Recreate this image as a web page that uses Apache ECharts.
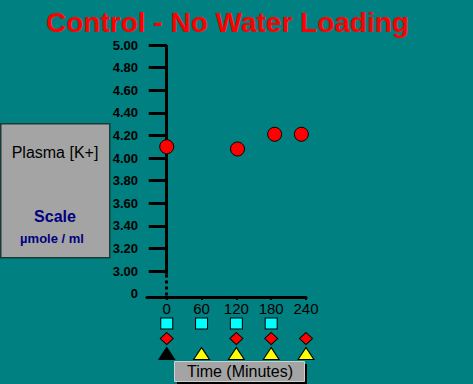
<!DOCTYPE html>
<html>
<head>
<meta charset="utf-8">
<script src="https://cdn.jsdelivr.net/npm/echarts@6/dist/echarts.min.js"></script>
<style>
html,body{margin:0;padding:0;background:#008080;}
#chart{width:473px;height:384px;}
</style>
</head>
<body>
<div id="chart"></div>
<script>
// ---- data ----
const titleText = 'Control - No Water Loading';
const sampleTimes = [0, 122, 186, 232];
const plasmaK = [4.10, 4.08, 4.21, 4.21];
const yTickValues = [3.0, 3.2, 3.4, 3.6, 3.8, 4.0, 4.2, 4.4, 4.6, 4.8, 5.0];
const yLabelValues = [2.8, 3.0, 3.2, 3.4, 3.6, 3.8, 4.0, 4.2, 4.4, 4.6, 4.8, 5.0];
const xTickValues = [0, 60, 120, 180, 240];
const squareTimes = [0, 60, 120, 180];
const diamondTimes = [0, 120, 180, 240];
const triangleTimes = [0, 60, 120, 180, 240];
const triangleFilled = [true, false, false, false, false];
const boxLabel = 'Plasma [K+]';
const scaleLabel = 'Scale';
const unitLabel = 'µmole / ml';
const xAxisTitle = 'Time (Minutes)';

const chart = echarts.init(document.getElementById('chart'), null, {renderer: 'svg'});
const FONT = 'Arial, "Liberation Sans", sans-serif';

const option = {
  backgroundColor: '#008080',
  animation: false,
  title: {
    text: titleText,
    left: 46,
    top: 8,
    padding: 0,
    textStyle: {color: '#ff0000', fontSize: 28, lineHeight: 28, fontWeight: 'bold', fontFamily: FONT}
  },
  grid: [
    {left: 147, width: 159, top: 45, height: 252},
    {left: 147, width: 159, top: 308.5, height: 60}
  ],
  xAxis: [
    {
      gridIndex: 0, type: 'value', min: -34, max: 240,
      splitLine: {show: false},
      axisLine: {show: true, onZero: false, lineStyle: {color: '#000', width: 3}},
      axisTick: {show: true, customValues: xTickValues, length: 3, lineStyle: {color: '#000', width: 2}},
      axisLabel: {customValues: xTickValues, margin: 4, color: '#000', fontSize: 15, fontFamily: FONT}
    },
    {
      gridIndex: 1, type: 'value', min: -34, max: 240, show: false
    }
  ],
  yAxis: [
    {
      gridIndex: 0, type: 'value', min: 2.77, max: 5.0,
      splitLine: {show: false},
      axisLine: {show: false, onZero: true},
      axisTick: {show: true, customValues: yTickValues, length: 18, lineStyle: {color: '#000', width: 3}},
      axisLabel: {
        customValues: yLabelValues, margin: 9, color: '#000', fontSize: 13, fontWeight: 'bold', fontFamily: FONT,
        formatter: function (v) { return Math.abs(v - 2.8) < 1e-6 ? '0' : v.toFixed(2); }
      }
    },
    {
      gridIndex: 1, type: 'value', min: 0, max: 4, show: false
    }
  ],
  series: [
    {
      type: 'scatter', xAxisIndex: 0, yAxisIndex: 0,
      data: sampleTimes.map((t, i) => [t, plasmaK[i]]),
      symbol: 'circle', symbolSize: 14,
      itemStyle: {color: '#ff0000', borderColor: '#000', borderWidth: 1, opacity: 1},
      z: 5,
      markLine: {
        silent: true, symbol: ['none', 'none'], label: {show: false},
        data: [
          [{coord: [0, 5.0], lineStyle: {color: '#000', width: 3, type: 'solid'}}, {coord: [0, 2.97]}],
          [{coord: [0, 2.97], lineStyle: {color: '#000', width: 3, type: [3, 3]}}, {coord: [0, 2.77]}]
        ]
      }
    },
    {
      type: 'scatter', xAxisIndex: 1, yAxisIndex: 1,
      data: squareTimes.map(t => [t, 3]),
      symbol: 'rect', symbolSize: [12, 11],
      itemStyle: {color: '#00ffff', borderColor: '#000', borderWidth: 1, opacity: 1}
    },
    {
      type: 'scatter', xAxisIndex: 1, yAxisIndex: 1,
      data: diamondTimes.map(t => [t, 2]),
      symbol: 'diamond', symbolSize: [13, 12],
      itemStyle: {color: '#ff0000', borderColor: '#000', borderWidth: 1, opacity: 1}
    },
    {
      type: 'scatter', xAxisIndex: 1, yAxisIndex: 1,
      data: triangleTimes.map((t, i) => ({
        value: [t, 1],
        itemStyle: {color: triangleFilled[i] ? '#000000' : '#ffff00'}
      })),
      symbol: 'triangle', symbolSize: [16, 12],
      itemStyle: {borderColor: '#000', borderWidth: 1, opacity: 1}
    }
  ],
  graphic: [
    {
      type: 'rect', left: 0, top: 123, z: 10,
      shape: {width: 109, height: 134},
      style: {fill: '#a4a4a4', stroke: '#1a3a3a', lineWidth: 1.5}
    },
    {
      type: 'text', z: 11, x: 55, y: 152,
      style: {text: boxLabel, fill: '#000', font: '16px ' + FONT, align: 'center', verticalAlign: 'middle'}
    },
    {
      type: 'text', z: 11, x: 55, y: 216,
      style: {text: scaleLabel, fill: '#000080', font: 'bold 16px ' + FONT, align: 'center', verticalAlign: 'middle'}
    },
    {
      type: 'text', z: 11, x: 52, y: 238,
      style: {text: unitLabel, fill: '#000080', font: 'bold 13px ' + FONT, align: 'center', verticalAlign: 'middle'}
    },
    {
      type: 'rect', left: 177, top: 364, z: 10,
      shape: {width: 130, height: 20},
      style: {fill: '#000'}
    },
    {
      type: 'rect', left: 174, top: 361, z: 11,
      shape: {width: 130, height: 20},
      style: {fill: '#a4a4a4', stroke: '#d0d0d0', lineWidth: 1}
    },
    {
      type: 'text', z: 12, x: 240, y: 371.5,
      style: {text: xAxisTitle, fill: '#000', font: '16px ' + FONT, align: 'center', verticalAlign: 'middle'}
    }
  ]
};
chart.setOption(option);
</script>
</body>
</html>
